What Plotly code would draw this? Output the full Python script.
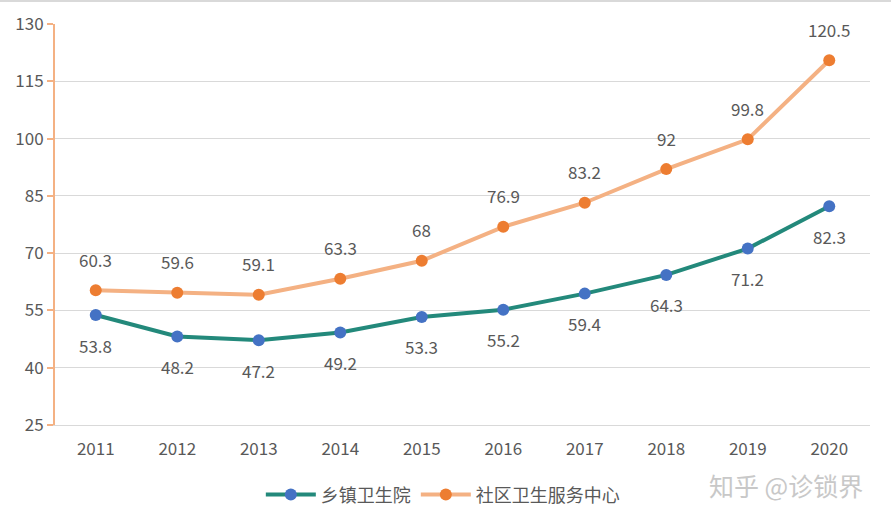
import plotly.graph_objects as go

years = ["2011", "2012", "2013", "2014", "2015", "2016", "2017", "2018", "2019", "2020"]
township = [53.8, 48.2, 47.2, 49.2, 53.3, 55.2, 59.4, 64.3, 71.2, 82.3]
community = [60.3, 59.6, 59.1, 63.3, 68, 76.9, 83.2, 92, 99.8, 120.5]
y_ticks = [25, 40, 55, 70, 85, 100, 115, 130]

FONT = "Noto Sans CJK SC"
TXT = "#595959"

fig = go.Figure()
fig.add_trace(go.Scatter(
    x=years, y=township, name="乡镇卫生院", mode="lines+markers",
    line=dict(color="#23897B", width=4),
    marker=dict(color="#4472C4", size=12),
))
fig.add_trace(go.Scatter(
    x=years, y=community, name="社区卫生服务中心", mode="lines+markers",
    line=dict(color="#F4B183", width=4),
    marker=dict(color="#ED7D31", size=12),
))

annotations = []
for i, yv in enumerate(township):
    annotations.append(dict(x=i, y=yv, xref="x", yref="y", text=f"{yv:g}", showarrow=False,
                            yshift=-30, font=dict(size=17, color=TXT, family=FONT)))
for i, yv in enumerate(community):
    annotations.append(dict(x=i, y=yv, xref="x", yref="y", text=f"{yv:g}", showarrow=False,
                            yshift=31, font=dict(size=17, color=TXT, family=FONT)))
annotations.append(dict(xref="paper", yref="paper", x=0.994, y=-0.15, xanchor="right",
                        yanchor="middle", text="知乎 @诊锁界", showarrow=False,
                        font=dict(size=25, color="#c8c8c8", family=FONT)))

fig.update_layout(
    width=891, height=522,
    margin=dict(l=55, r=21, t=24, b=97),
    paper_bgcolor="white", plot_bgcolor="white",
    font=dict(family=FONT, color=TXT, size=17),
    showlegend=True,
    legend=dict(orientation="h", xref="container", yref="container",
                x=0.497, xanchor="center", y=0.052, yanchor="middle",
                font=dict(size=18, color=TXT, family=FONT), itemwidth=50),
    annotations=annotations,
    shapes=[dict(type="line", xref="paper", yref="paper", x0=-0.1, x1=1.1,
                 y0=1.0574, y1=1.0574, line=dict(color="#d9d9d9", width=2))],
)
fig.update_xaxes(
    type="category", range=[-0.5, 9.5], showgrid=False, showline=True,
    linecolor="#d9d9d9", linewidth=1, zeroline=False, automargin=False,
    tickfont=dict(size=17, color=TXT, family=FONT),
    ticks="outside", ticklen=9, tickcolor="rgba(0,0,0,0)",
)
fig.update_yaxes(
    range=[25, 130], tickvals=y_ticks, showgrid=True, gridcolor="#d9d9d9", gridwidth=1,
    showline=True, linecolor="#F4B183", linewidth=2, ticks="outside", tickcolor="#F4B183",
    ticklen=6, tickwidth=2, zeroline=False, automargin=False,
    tickfont=dict(size=17, color=TXT, family=FONT),
)

fig.write_html("out.html", config={"displayModeBar": False},
               post_script="document.body.style.margin='0';")
